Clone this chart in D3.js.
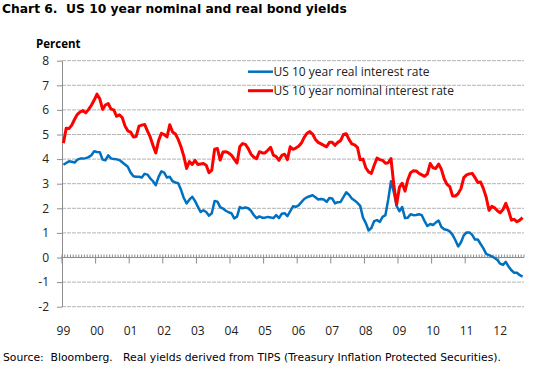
<!DOCTYPE html>
<html>
<head>
<meta charset="utf-8">
<script src="https://cdn.jsdelivr.net/npm/d3@7"></script>
<style>
    body { margin: 0; background: #fff; }
    svg { display: block; }
</style>
</head>
<body>
<div id="chart"></div>
<script>
// Month-end yields, Jan 1999 - Sep 2012
const startYear = 1999;

const yearLabels = ["99", "00", "01", "02", "03", "04", "05", "06", "07", "08", "09", "10", "11", "12"];

const realRate = [
    3.77, 3.84, 3.91, 3.89, 3.86, 3.98, 4.02, 4.02, 4.04, 4.08, 4.16, 4.32,   // 1999
    4.29, 4.28, 3.98, 3.95, 4.15, 4.03, 4.00, 3.99, 3.96, 3.87, 3.78, 3.69,   // 2000
    3.45, 3.30, 3.28, 3.28, 3.25, 3.40, 3.37, 3.22, 3.10, 2.94, 3.28, 3.50,   // 2001
    3.45, 3.25, 3.28, 3.10, 3.05, 3.02, 2.75, 2.42, 2.20, 2.35, 2.47, 2.30,   // 2002
    2.07, 1.85, 1.92, 1.85, 1.70, 1.80, 2.30, 2.27, 2.05, 1.99, 1.90, 1.84,   // 2003
    1.80, 1.59, 1.66, 2.05, 2.00, 2.03, 2.00, 1.90, 1.72, 1.60, 1.67, 1.62,   // 2004
    1.62, 1.65, 1.63, 1.60, 1.72, 1.60, 1.78, 1.80, 1.68, 1.88, 2.08, 2.06,   // 2005
    2.12, 2.25, 2.38, 2.45, 2.49, 2.53, 2.45, 2.36, 2.38, 2.36, 2.26, 2.42,   // 2006
    2.40, 2.20, 2.25, 2.26, 2.45, 2.65, 2.55, 2.40, 2.32, 2.22, 2.10, 1.62,   // 2007
    1.40, 1.10, 1.20, 1.48, 1.52, 1.45, 1.65, 1.72, 2.35, 3.10, 2.65, 2.10,   // 2008
    1.88, 2.05, 1.60, 1.62, 1.76, 1.72, 1.73, 1.76, 1.72, 1.48, 1.28, 1.36,   // 2009
    1.32, 1.42, 1.50, 1.24, 1.15, 1.12, 1.06, 0.92, 0.70, 0.45, 0.62, 0.90,   // 2010
    1.02, 1.02, 0.92, 0.73, 0.73, 0.55, 0.37, 0.15, 0.10, 0.05, -0.02, -0.10, // 2011
    -0.25, -0.30, -0.18, -0.37, -0.52, -0.62, -0.62, -0.72, -0.78            // 2012
];

const nominalRate = [
    4.65, 5.25, 5.24, 5.38, 5.62, 5.82, 5.92, 5.97, 5.88, 6.02, 6.19, 6.40,   // 1999
    6.64, 6.45, 6.02, 6.20, 6.26, 6.03, 6.00, 5.74, 5.80, 5.69, 5.35, 5.15,   // 2000
    5.10, 4.90, 4.92, 5.34, 5.38, 5.41, 5.15, 4.90, 4.55, 4.25, 4.75, 5.05,   // 2001
    5.00, 4.90, 5.40, 5.10, 5.02, 4.80, 4.50, 4.12, 3.62, 3.90, 3.78, 3.95,   // 2002
    3.78, 3.80, 3.82, 3.75, 3.45, 3.55, 4.40, 4.43, 3.96, 4.29, 4.30, 4.25,   // 2003
    4.16, 4.00, 3.84, 4.50, 4.63, 4.60, 4.43, 4.20, 4.08, 4.02, 4.30, 4.25,   // 2004
    4.25, 4.36, 4.48, 4.16, 4.10, 3.95, 4.15, 4.20, 3.98, 4.50, 4.40, 4.45,   // 2005
    4.52, 4.65, 4.88, 5.05, 5.12, 5.02, 4.80, 4.68, 4.62, 4.56, 4.50, 4.68,   // 2006
    4.68, 4.56, 4.68, 4.75, 5.00, 5.03, 4.80, 4.62, 4.58, 4.48, 3.97, 4.00,   // 2007
    3.65, 3.48, 3.42, 3.75, 4.04, 3.98, 3.95, 3.83, 3.85, 4.02, 2.95, 2.15,   // 2008
    2.85, 3.02, 2.70, 3.16, 3.45, 3.53, 3.52, 3.42, 3.36, 3.30, 3.40, 3.82,   // 2009
    3.65, 3.62, 3.80, 3.58, 3.20, 2.97, 2.88, 2.50, 2.50, 2.60, 2.80, 3.25,   // 2010
    3.36, 3.40, 3.42, 3.25, 3.05, 3.07, 2.80, 2.45, 1.92, 2.08, 2.02, 1.90,   // 2011
    1.82, 1.95, 2.20, 1.90, 1.52, 1.55, 1.45, 1.52, 1.62                      // 2012
];

const yTicks = [-2, -1, 0, 1, 2, 3, 4, 5, 6, 7, 8];

const seriesNames = ["US 10 year real interest rate", "US 10 year nominal interest rate"];
const seriesColors = ["#0070C0", "#FF0000"];


let width = 540,
    height = 372;

// plot area
let plotLeft = 62,
    plotRight = 524,
    plotTop = 60.7,
    plotBottom = 306.7;

let months = realRate.map((d, i) =>
    (startYear + Math.floor(i / 12)) + "-" + String(i % 12 + 1).padStart(2, "0"));

let svg = d3.select("#chart").append("svg")
    .attr("width", width)
    .attr("height", height);

let x = d3.scaleBand()
    .domain(months)
    .range([plotLeft, plotRight]);

let y = d3.scaleLinear()
    .domain([-2, 8])
    .range([plotBottom, plotTop]);

// Title
svg.append("text")
    .attr("x", 2)
    .attr("y", 13)
    .style("font-family", "DejaVu Sans")
    .style("font-weight", "bold")
    .style("font-size", "12.3px")
    .attr("xml:space", "preserve")
    .text("Chart 6.  US 10 year nominal and real bond yields");

svg.append("text")
    .attr("x", 36)
    .attr("y", 48.3)
    .style("font-family", "Open Sans")
    .style("font-weight", "bold")
    .style("font-size", "11.5px")
    .text("Percent");

// Gridlines
svg.append("g")
    .selectAll("line")
    .data(yTicks.filter(d => d !== 0))
    .enter().append("line")
    .attr("x1", plotLeft)
    .attr("x2", plotRight)
    .attr("y1", d => y(d))
    .attr("y2", d => y(d))
    .attr("stroke", "#b3b3b3")
    .attr("stroke-dasharray", "4,1");

// Y axis
let yAxis = svg.append("g")
    .attr("transform", "translate(" + plotLeft + ",0)")
    .call(d3.axisLeft(y)
        .tickValues(yTicks)
        .tickSize(5)
        .tickSizeOuter(0)
        .tickPadding(8)
        .tickFormat(d => String(d)));

yAxis.select(".domain").attr("stroke", "#8c8c8c");
yAxis.selectAll(".tick line").attr("stroke", "#8c8c8c");
yAxis.selectAll(".tick text")
    .style("font-family", "Open Sans")
    .style("font-size", "12px")
    .attr("fill", "#222");

// X axis on the zero line
let y0 = y(0);
let xAxis = svg.append("g");

xAxis.append("line")
    .attr("x1", plotLeft)
    .attr("x2", plotRight)
    .attr("y1", y0)
    .attr("y2", y0)
    .attr("stroke", "#8c8c8c");

// minor ticks, one per month
xAxis.selectAll(".minor")
    .data(months.concat(["end"]))
    .enter().append("line")
    .attr("class", "minor")
    .attr("x1", d => d === "end" ? plotRight : x(d))
    .attr("x2", d => d === "end" ? plotRight : x(d))
    .attr("y1", y0 - 3)
    .attr("y2", y0)
    .attr("stroke", "#8c8c8c");

let janMonths = months.filter(m => m.endsWith("-01"));

xAxis.selectAll(".major")
    .data(janMonths)
    .enter().append("line")
    .attr("class", "major")
    .attr("x1", d => x(d))
    .attr("x2", d => x(d))
    .attr("y1", y0 - 1)
    .attr("y2", y0 + 6)
    .attr("stroke", "#8c8c8c");

svg.append("g")
    .selectAll("text")
    .data(janMonths)
    .enter().append("text")
    .attr("x", d => x(d) + x.bandwidth() / 2)
    .attr("y", 335)
    .attr("text-anchor", "middle")
    .style("font-family", "Open Sans")
    .style("font-size", "12px")
    .attr("fill", "#222")
    .text((d, i) => yearLabels[i]);

// Lines
let line = d3.line()
    .x((d, i) => x(months[i]) + x.bandwidth() / 2)
    .y(d => y(d));

[realRate, nominalRate].forEach((series, k) => {
    svg.append("path")
        .datum(series)
        .attr("fill", "none")
        .attr("stroke", seriesColors[k])
        .attr("stroke-width", k === 0 ? 2.5 : 3)
        .attr("stroke-linejoin", "round")
        .attr("d", line);
});

// Legend
let legend = svg.append("g")
    .attr("transform", "translate(248,71.7)");

seriesNames.forEach((name, k) => {
    let item = legend.append("g")
        .attr("transform", "translate(0," + (k * 19) + ")");

    item.append("line")
        .attr("x1", 0)
        .attr("x2", 25)
        .attr("stroke", seriesColors[k])
        .attr("stroke-width", k === 0 ? 2.5 : 3);

    item.append("text")
        .attr("x", 25.5)
        .attr("dy", "0.35em")
        .style("font-family", "Open Sans")
        .style("font-size", "12px")
        .attr("fill", "#222")
        .text(name);
});

// Source note
svg.append("text")
    .attr("x", 3)
    .attr("y", 361)
    .style("font-family", "DejaVu Sans")
    .style("font-size", "10.8px")
    .attr("xml:space", "preserve")
    .text("Source:  Bloomberg.   Real yields derived from TIPS (Treasury Inflation Protected Securities).");
</script>
</body>
</html>
